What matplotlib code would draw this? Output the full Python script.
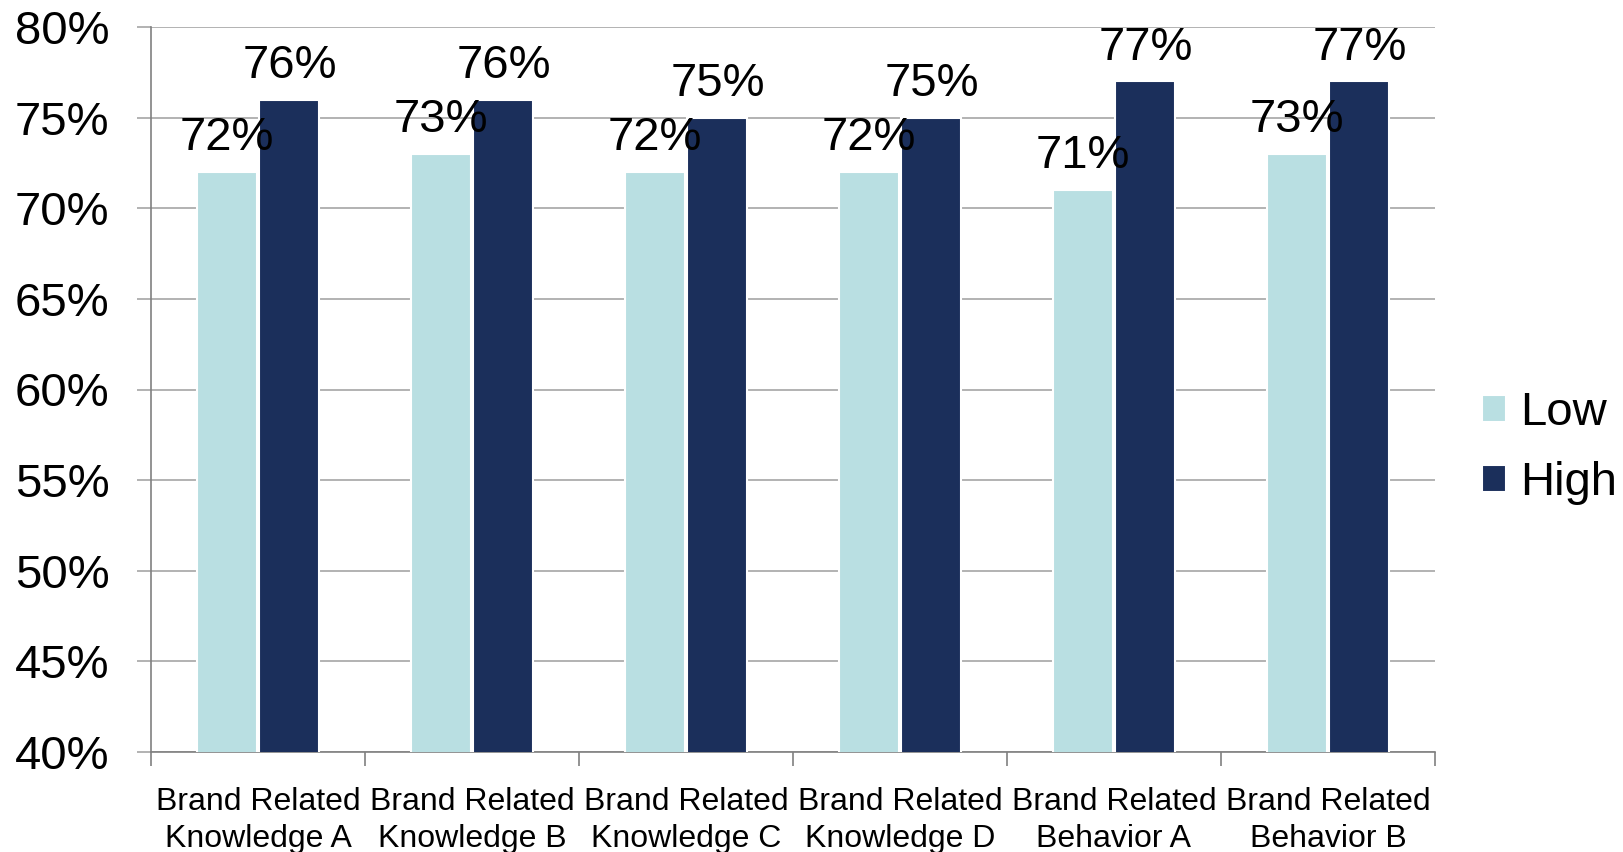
import matplotlib
matplotlib.use("Agg")
import matplotlib.pyplot as plt
import numpy as np
from matplotlib.ticker import FuncFormatter, MultipleLocator

plt.rcParams['font.family'] = ['Liberation Sans', 'DejaVu Sans']

categories = ["Brand Related\nKnowledge A", "Brand Related\nKnowledge B", "Brand Related\nKnowledge C",
              "Brand Related\nKnowledge D", "Brand Related\nBehavior A", "Brand Related\nBehavior B"]
low = [72, 73, 72, 72, 71, 73]
high = [76, 76, 75, 75, 77, 77]
series_names = ["Low", "High"]
colors = ["#B9DFE2", "#1B2F5B"]

fig = plt.figure(figsize=(16.23, 8.52), dpi=100)
ax = fig.add_axes([151/1623, 1 - 752/852, (1435-151)/1623, (752-27)/852])

x = np.arange(len(categories))
w = 0.28
b1 = ax.bar(x - w/2 - 0.007, low, w, color=colors[0], edgecolor="white", linewidth=1.5, label=series_names[0], zorder=3)
b2 = ax.bar(x + w/2 + 0.007, high, w, color=colors[1], edgecolor="white", linewidth=1.5, label=series_names[1], zorder=3)

for bars, vals in ((b1, low), (b2, high)):
    for r, v in zip(bars, vals):
        ax.text(r.get_x() + r.get_width()/2, v + 0.65, f"{v}%", ha="center", va="bottom",
                fontsize=34, zorder=4)

ax.set_ylim(40, 80)
ax.set_xlim(-0.5, len(categories) - 0.5)
ax.yaxis.set_major_locator(MultipleLocator(5))
ax.yaxis.set_major_formatter(FuncFormatter(lambda v, p: f"{v:.0f}%"))
ax.grid(axis="y", color="#A6A6A6", linewidth=1.2, zorder=0)
ax.set_axisbelow(True)

ax.set_xticks(np.arange(len(categories) + 1) - 0.5, minor=False)
ax.set_xticklabels([])
ax.set_xticks(x, minor=True)
ax.set_xticklabels(categories, minor=True, fontsize=23, linespacing=1.3)
ax.tick_params(axis="x", which="major", length=10, color="#808080", width=1.2)
ax.tick_params(axis="x", which="minor", length=0, pad=25)
ax.tick_params(axis="y", labelsize=34, length=10, color="#A6A6A6", width=1.2, pad=20)

for s in ["top", "right"]:
    ax.spines[s].set_visible(False)
ax.spines["left"].set_color("#808080")
ax.spines["bottom"].set_color("#808080")
ax.spines["left"].set_linewidth(1.2)
ax.spines["bottom"].set_linewidth(1.2)

leg = fig.legend(handles=[b1, b2], labels=series_names, loc="center left",
                 bbox_to_anchor=(1482/1623, 1 - 448/852), frameon=False, fontsize=34,
                 handlelength=0.5, handleheight=0.5, handletextpad=0.3, labelspacing=0.55,
                 borderpad=0, borderaxespad=0)

fig.savefig("out.png", dpi=100)
